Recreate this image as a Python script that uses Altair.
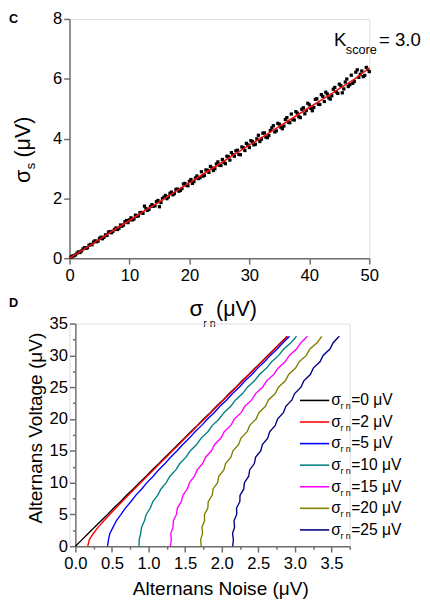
import altair as alt
import pandas as pd

FONT = "Liberation Sans"

# ---------------- Panel C data ----------------
c_x1 = [0.5, 1.0, 1.5, 2.0, 2.5, 3.0, 3.5, 4.0, 4.5, 5.0, 5.5, 6.0, 6.5, 7.0, 7.5, 8.0, 8.5, 9.0, 9.5, 10.0,
        10.5, 11.0, 11.5, 12.0, 12.5, 13.0, 13.5, 14.0, 14.5, 15.0, 15.5, 16.0, 16.5, 17.0, 17.5, 18.0, 18.5, 19.0, 19.5, 20.0,
        20.5, 21.0, 21.5, 22.0, 22.5, 23.0, 23.5, 24.0, 24.5, 25.0, 25.5, 26.0, 26.5, 27.0, 27.5, 28.0, 28.5, 29.0, 29.5, 30.0,
        30.5, 31.0, 31.5, 32.0, 32.5, 33.0, 33.5, 34.0, 34.5, 35.0, 35.5, 36.0, 36.5, 37.0, 37.5, 38.0, 38.5, 39.0, 39.5, 40.0,
        40.5, 41.0, 41.5, 42.0, 42.5, 43.0, 43.5, 44.0, 44.5, 45.0, 45.5, 46.0, 46.5, 47.0, 47.5, 48.0, 48.5, 49.0, 49.5, 50.0]
c_y1 = [0.07, 0.11, 0.21, 0.24, 0.35, 0.35, 0.46, 0.54, 0.55, 0.66, 0.65, 0.78, 0.87, 0.85, 0.96, 0.96, 1.11, 1.11, 1.26, 1.28,
        1.28, 1.44, 1.42, 1.53, 1.74, 1.60, 1.73, 1.74, 1.89, 1.72, 1.99, 2.10, 2.05, 2.21, 2.16, 2.31, 2.27, 2.48, 2.44, 2.57,
        2.50, 2.68, 2.66, 2.89, 2.77, 2.94, 3.07, 2.93, 3.15, 3.11, 3.30, 3.16, 3.39, 3.53, 3.41, 3.61, 3.46, 3.69, 3.84, 3.70,
        3.90, 3.81, 4.11, 3.98, 4.19, 4.03, 4.27, 4.43, 4.26, 4.48, 4.33, 4.64, 4.55, 4.82, 4.62, 4.85, 4.70, 5.03, 4.94, 5.13,
        4.93, 5.31, 5.15, 5.47, 5.24, 5.49, 5.32, 5.65, 5.56, 5.82, 5.53, 5.89, 5.74, 6.12, 5.91, 6.30, 6.15, 6.07, 6.38, 6.24]
c_x2 = [0.25, 0.75, 1.25, 1.75, 2.25, 2.75, 3.25, 3.75, 4.25, 4.75, 5.25, 5.75, 6.25, 6.75, 7.25, 7.75, 8.25, 8.75, 9.25, 9.75,
        10.25, 10.75, 11.25, 11.75, 12.25, 12.75, 13.25, 13.75, 14.25, 14.75, 15.25, 15.75, 16.25, 16.75, 17.25, 17.75, 18.25, 18.75, 19.25, 19.75,
        20.25, 20.75, 21.25, 21.75, 22.25, 22.75, 23.25, 23.75, 24.25, 24.75, 25.25, 25.75, 26.25, 26.75, 27.25, 27.75, 28.25, 28.75, 29.25, 29.75,
        30.25, 30.75, 31.25, 31.75, 32.25, 32.75, 33.25, 33.75, 34.25, 34.75, 35.25, 35.75, 36.25, 36.75, 37.25, 37.75, 38.25, 38.75, 39.25, 39.75,
        40.25, 40.75, 41.25, 41.75, 42.25, 42.75, 43.25, 43.75, 44.25, 44.75, 45.25, 45.75, 46.25, 46.75, 47.25, 47.75, 48.25, 48.75, 49.25, 49.75]
c_y2 = [0.04, 0.08, 0.17, 0.19, 0.31, 0.33, 0.43, 0.45, 0.58, 0.57, 0.70, 0.70, 0.76, 0.89, 0.90, 1.01, 1.00, 1.07, 1.22, 1.19,
        1.35, 1.31, 1.40, 1.52, 1.50, 1.66, 1.63, 1.79, 1.75, 1.93, 1.86, 2.04, 1.99, 2.17, 2.12, 2.30, 2.24, 2.33, 2.50, 2.42,
        2.63, 2.56, 2.75, 2.69, 2.74, 2.95, 2.87, 3.02, 2.99, 3.22, 3.10, 3.21, 3.41, 3.28, 3.46, 3.59, 3.47, 3.72, 3.60, 3.79,
        3.93, 3.79, 3.99, 3.90, 4.18, 4.05, 4.10, 4.36, 4.22, 4.51, 4.38, 4.42, 4.70, 4.53, 4.64, 4.90, 4.73, 4.98, 4.83, 5.18,
        5.01, 5.04, 5.33, 5.14, 5.41, 5.55, 5.36, 5.43, 5.71, 5.51, 5.77, 5.66, 5.99, 5.80, 5.85, 6.22, 6.05, 6.26, 6.11, 6.31]
fit_x = [0, 2.5, 5, 7.5, 10, 12.5, 15, 17.5, 20, 22.5, 25, 27.5, 30, 32.5, 35, 37.5, 40, 42.5, 45, 47.5, 50]
fit_y = [0.00, 0.31, 0.63, 0.95, 1.26, 1.58, 1.88, 2.21, 2.52, 2.84, 3.15, 3.47, 3.78, 4.09, 4.41, 4.72, 5.04, 5.35, 5.67, 5.98, 6.36]

# ---------------- Panel D data ----------------
d_voltage = [0, 1, 2, 3, 4, 5, 6, 7, 8, 9, 10, 11, 12, 13, 14, 15, 16, 17, 18, 19, 20,
             21, 22, 23, 24, 25, 26, 27, 28, 29, 30, 31, 32, 33]
d_noise = {
    0: [0.000, 0.088, 0.176, 0.262, 0.352, 0.440, 0.525, 0.616, 0.700, 0.791, 0.876, 0.967, 1.050, 1.142, 1.226, 1.318, 1.402,
        1.493, 1.577, 1.668, 1.752, 1.844, 1.928, 2.020, 2.103, 2.195, 2.279, 2.370, 2.454, 2.546, 2.630, 2.721, 2.806, 2.895],
    2: [0.170, 0.190, 0.245, 0.312, 0.391, 0.469, 0.554, 0.636, 0.723, 0.807, 0.895, 0.979, 1.067, 1.152, 1.241, 1.326, 1.415,
        1.500, 1.589, 1.674, 1.764, 1.849, 1.938, 2.024, 2.113, 2.199, 2.288, 2.373, 2.463, 2.549, 2.638, 2.724, 2.813, 2.900],
    5: [0.440, 0.452, 0.471, 0.516, 0.560, 0.624, 0.683, 0.758, 0.825, 0.907, 0.978, 1.064, 1.138, 1.225, 1.302, 1.390, 1.468,
        1.558, 1.636, 1.727, 1.806, 1.897, 1.976, 2.068, 2.148, 2.240, 2.320, 2.412, 2.492, 2.585, 2.665, 2.758, 2.838, 2.928],
    10: [0.870, 0.872, 0.892, 0.905, 0.944, 0.969, 1.024, 1.059, 1.124, 1.170, 1.242, 1.292, 1.373, 1.428, 1.512, 1.571, 1.658,
         1.719, 1.811, 1.873, 1.965, 2.030, 2.124, 2.190, 2.285, 2.352, 2.448, 2.516, 2.613, 2.682, 2.779, 2.848, 2.946, 3.023],
    15: [1.300, 1.310, 1.305, 1.334, 1.340, 1.381, 1.394, 1.447, 1.470, 1.530, 1.560, 1.628, 1.665, 1.739, 1.780, 1.860, 1.903,
         1.990, 2.035, 2.125, 2.174, 2.266, 2.316, 2.410, 2.463, 2.558, 2.615, 2.711, 2.770, 2.866, 2.925, 3.022, 3.083, 3.173],
    20: [1.720, 1.712, 1.738, 1.730, 1.765, 1.764, 1.811, 1.815, 1.870, 1.882, 1.944, 1.960, 2.030, 2.052, 2.126, 2.154, 2.232,
         2.263, 2.348, 2.383, 2.470, 2.508, 2.598, 2.639, 2.732, 2.775, 2.870, 2.915, 3.010, 3.060, 3.156, 3.205, 3.304, 3.367],
    25: [2.150, 2.160, 2.148, 2.176, 2.168, 2.205, 2.203, 2.248, 2.250, 2.302, 2.310, 2.369, 2.382, 2.446, 2.464, 2.533, 2.556,
         2.629, 2.655, 2.732, 2.763, 2.843, 2.877, 2.960, 2.997, 3.083, 3.122, 3.211, 3.252, 3.343, 3.386, 3.479, 3.524, 3.606],
}
sigmas = [0, 2, 5, 10, 15, 20, 25]
colors = ["#000000", "#ff0000", "#0000ff", "#008080", "#ff00ff", "#808000", "#000080"]
legend_labels = ["=0 \u03bcV", "=2 \u03bcV", "=5 \u03bcV", "=10 \u03bcV", "=15 \u03bcV", "=20 \u03bcV", "=25 \u03bcV"]

# ---------------- helpers ----------------
AX_COLOR = "#6e6e6e"


def axis_dict(values, label_test, tick_test, fmt=None, pad=2):
    kw = dict(
        values=values,
        labelExpr=f"({label_test}) ? '' : datum.label",
        tickSize={"condition": {"test": tick_test, "value": 3}, "value": 6},
        domainColor=AX_COLOR, domainWidth=1.5, tickColor=AX_COLOR, tickWidth=1.5,
        labelFont=FONT, labelFontSize=17, labelColor="black", labelPadding=pad,
        labelFlush=False, grid=False, title=None, labelOverlap=False,
    )
    if fmt:
        kw["format"] = fmt
    return kw


def txt(s, x, y, size, angle=0, weight="normal", align="left", baseline="alphabetic", font=FONT):
    props = dict(align=align, baseline=baseline, fontSize=size, font=font, fontWeight=weight, color="black")
    if angle:
        props["angle"] = angle
    return alt.Chart(pd.DataFrame({"t": [s]})).mark_text(**props).encode(
        x=alt.value(x), y=alt.value(y), text="t:N")


# ---------------- Panel C ----------------
CW, CH = 307, 245
cx_scale = alt.Scale(domain=[0, 50], nice=False)
cy_scale = alt.Scale(domain=[0, 8], nice=False)
cx_axis = alt.Axis(**axis_dict([0, 5, 10, 15, 20, 25, 30, 35, 40, 45, 50],
                               "datum.value % 10 != 0", "datum.value % 10 != 0", pad=4))
cy_axis = alt.Axis(**axis_dict([0, 1, 2, 3, 4, 5, 6, 7, 8],
                               "datum.value % 2 != 0", "datum.value % 2 != 0"))

dfc = pd.DataFrame({"x": c_x1 + c_x2, "y": c_y1 + c_y2})
dff = pd.DataFrame({"x": fit_x, "y": fit_y})

pts = alt.Chart(dfc).mark_square(size=11, color="black", opacity=1).encode(
    x=alt.X("x:Q", scale=cx_scale, axis=cx_axis),
    y=alt.Y("y:Q", scale=cy_scale, axis=cy_axis),
)
fit = alt.Chart(dff).mark_line(color="#ee1111", strokeWidth=1.6).encode(
    x=alt.X("x:Q", scale=cx_scale), y=alt.Y("y:Q", scale=cy_scale))

# C origin on page: approx (70, 14)
c_texts = [
    txt("C", -62, 4, 13, weight="bold"),
    txt("K", 271, 28, 19),
    txt("score", 283, 36, 13),
    txt("= 3.0", 317, 28, 19),
    # y title (rotated)
    txt("\u03c3", -40, 168, 22, angle=270),
    txt("s", -35, 154, 13, angle=270),
    txt("(\u03bcV)", -40, 142, 22, angle=270),
    # x title
    txt("\u03c3", 123, 304, 23),
    txt("r n", 137, 315, 11),
    txt("(\u03bcV)", 150, 304, 22),
]
panel_c = alt.layer(pts, fit, *c_texts).properties(width=CW, height=CH)

# ---------------- Panel D ----------------
DW, DH = 287, 228
rows = []
for s in sigmas:
    for v, n in zip(d_voltage, d_noise[s]):
        rows.append({"sigma": s, "voltage": v, "noise": n})
dfd = pd.DataFrame(rows)

dx_scale = alt.Scale(domain=[0, 3.75], range=[6, DW], nice=False)
dy_scale = alt.Scale(domain=[0, 35], nice=False)
dx_axis = alt.Axis(**axis_dict([0, 0.25, 0.5, 0.75, 1, 1.25, 1.5, 1.75, 2, 2.25, 2.5, 2.75, 3, 3.25, 3.5, 3.75],
                               "datum.value % 0.5 != 0 || datum.value > 3.6", "datum.value % 0.5 != 0",
                               fmt=".1f", pad=4))
dy_kw = axis_dict([0, 2.5, 5, 7.5, 10, 12.5, 15, 17.5, 20, 22.5, 25, 27.5, 30, 32.5, 35],
                  "datum.value % 5 != 0", "datum.value % 5 != 0")
dy_kw["offset"] = -6
dy_axis = alt.Axis(**dy_kw)

color_scale = alt.Scale(domain=sigmas, range=colors)
lines = alt.Chart(dfd).mark_line(strokeWidth=1.4).encode(
    x=alt.X("noise:Q", scale=dx_scale, axis=dx_axis),
    y=alt.Y("voltage:Q", scale=dy_scale, axis=dy_axis),
    color=alt.Color("sigma:N", scale=color_scale, legend=None),
    detail="sigma:N",
    order="voltage:Q",
)

# legend (D origin on page: approx (70, 322))
leg_y0, leg_dy = 78.7, 22.1
leg = pd.DataFrame({
    "sigma": sigmas,
    "label": legend_labels,
    "ly": [leg_y0 + i * leg_dy for i in range(len(sigmas))],
})
leg["x1"] = 236
leg["x2"] = 266
leg["ty"] = leg["ly"] + 5
leg["sy"] = leg["ly"] + 9
leg["sig"] = "\u03c3"
leg["rn"] = "r n"

leg_lines = alt.Chart(leg).mark_rule(strokeWidth=1.6).encode(
    x=alt.X("x1:Q", scale=None), x2="x2:Q", y=alt.Y("ly:Q", scale=None),
    color=alt.Color("sigma:N", scale=color_scale, legend=None))
leg_sig = alt.Chart(leg).mark_text(align="left", baseline="alphabetic", font=FONT, fontSize=16, color="black").encode(
    x=alt.value(268), y=alt.Y("ty:Q", scale=None), text="sig:N")
leg_rn = alt.Chart(leg).mark_text(align="left", baseline="alphabetic", font=FONT, fontSize=9, color="black").encode(
    x=alt.value(277.5), y=alt.Y("sy:Q", scale=None), text="rn:N")
leg_txt = alt.Chart(leg).mark_text(align="left", baseline="alphabetic", font=FONT, fontSize=16, color="black").encode(
    x=alt.value(288.5), y=alt.Y("ty:Q", scale=None), text="label:N")

d_texts = [
    txt("D", -62, -17, 13, weight="bold"),
    txt("Alternans Voltage (\u03bcV)", -28, 107, 19.5, angle=270, align="center"),
    txt("Alternans Noise (\u03bcV)", 155, 278, 19.5, align="center"),
]
panel_d = alt.layer(lines, leg_lines, leg_sig, leg_rn, leg_txt, *d_texts).properties(width=DW, height=DH)

chart = alt.vconcat(panel_c, panel_d, spacing=67, bounds="flush").resolve_scale(
    x="independent", y="independent", color="independent"
).properties(padding={"left": 0, "top": -6, "right": 0, "bottom": 0}).configure_view(stroke=None).configure(
    background="white")

chart.save("out.html", embed_options={"renderer": "svg", "actions": False})
